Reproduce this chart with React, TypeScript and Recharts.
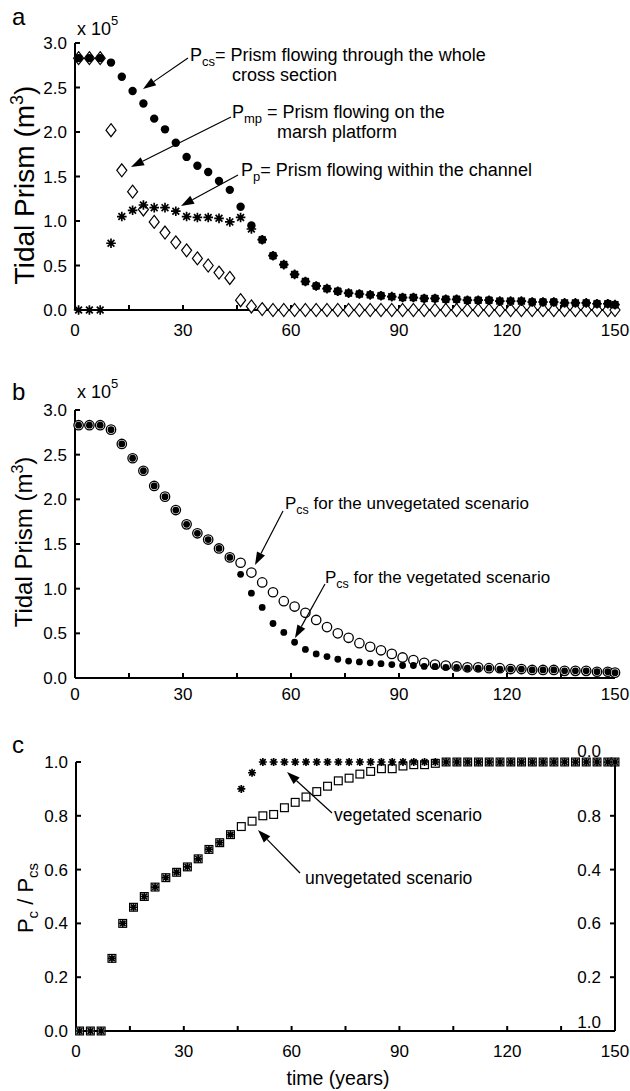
import React from 'react';
import { ScatterChart, Scatter, XAxis, YAxis } from 'recharts';

// sample years (same for every series)
const years = [1, 4, 7, 10, 13, 16, 19, 22, 25, 28, 31, 34, 37, 40, 43, 46, 49, 52, 55, 58, 61, 64, 67, 70, 73, 76, 79, 82, 85, 88, 91, 94, 97, 100, 103, 106, 109, 112, 115, 118, 121, 124, 127, 130, 133, 136, 139, 142, 145, 148, 150];

// panel a (x 10^5 m3)
const prismCs = [2.83, 2.83, 2.83, 2.78, 2.62, 2.46, 2.32, 2.15, 2.03, 1.88, 1.72, 1.62, 1.55, 1.45, 1.35, 1.16, 0.95, 0.79, 0.61, 0.51, 0.40, 0.32, 0.27, 0.24, 0.21, 0.19, 0.18, 0.17, 0.16, 0.15, 0.14, 0.14, 0.13, 0.13, 0.12, 0.12, 0.11, 0.11, 0.11, 0.10, 0.10, 0.10, 0.09, 0.09, 0.09, 0.08, 0.08, 0.08, 0.07, 0.07, 0.06];
const prismMp = [2.83, 2.83, 2.83, 2.02, 1.57, 1.33, 1.13, 0.99, 0.87, 0.76, 0.67, 0.58, 0.50, 0.42, 0.36, 0.11, 0.04, 0.01, 0, 0, 0, 0, 0, 0, 0, 0, 0, 0, 0, 0, 0, 0, 0, 0, 0, 0, 0, 0, 0, 0, 0, 0, 0, 0, 0, 0, 0, 0, 0, 0, 0];
const prismP = [0, 0, 0, 0.75, 1.05, 1.12, 1.18, 1.15, 1.15, 1.11, 1.05, 1.04, 1.04, 1.03, 0.99, 1.04, 0.91, 0.79, 0.61, 0.51, 0.40, 0.32, 0.27, 0.24, 0.21, 0.19, 0.18, 0.17, 0.16, 0.15, 0.14, 0.14, 0.13, 0.13, 0.12, 0.12, 0.11, 0.11, 0.11, 0.10, 0.10, 0.10, 0.09, 0.09, 0.09, 0.08, 0.08, 0.08, 0.07, 0.07, 0.06];

// panel b
const prismVeg = prismCs;
const prismUnveg = [2.83, 2.83, 2.83, 2.78, 2.62, 2.46, 2.32, 2.15, 2.03, 1.88, 1.72, 1.62, 1.55, 1.45, 1.35, 1.29, 1.18, 1.07, 0.96, 0.86, 0.80, 0.73, 0.65, 0.57, 0.50, 0.45, 0.39, 0.35, 0.31, 0.27, 0.23, 0.20, 0.17, 0.15, 0.14, 0.13, 0.12, 0.12, 0.11, 0.11, 0.10, 0.10, 0.09, 0.09, 0.09, 0.08, 0.08, 0.08, 0.07, 0.07, 0.06];

// panel c
const ratioUnveg = [0, 0, 0, 0.27, 0.40, 0.46, 0.50, 0.535, 0.57, 0.59, 0.61, 0.64, 0.675, 0.70, 0.73, 0.76, 0.78, 0.80, 0.805, 0.83, 0.85, 0.87, 0.89, 0.91, 0.93, 0.94, 0.955, 0.965, 0.975, 0.975, 0.985, 0.99, 0.99, 0.995, 1, 1, 1, 1, 1, 1, 1, 1, 1, 1, 1, 1, 1, 1, 1, 1, 1];
const ratioVeg = [0, 0, 0, 0.27, 0.40, 0.46, 0.50, 0.535, 0.57, 0.59, 0.61, 0.64, 0.675, 0.70, 0.73, 0.90, 0.96, 1, 1, 1, 1, 1, 1, 1, 1, 1, 1, 1, 1, 1, 1, 1, 1, 1, 1, 1, 1, 1, 1, 1, 1, 1, 1, 1, 1, 1, 1, 1, 1, 1, 1];

const xTicks = [0, 15, 30, 45, 60, 75, 90, 105, 120, 135, 150];
const prismTicks = [0, 0.5, 1, 1.5, 2, 2.5, 3];
const ratioTicks = [0, 0.2, 0.4, 0.6, 0.8, 1];
// right axis of panel c carries these labels, bottom to top
const rightLabels = ['1.0', '0.2', '0.6', '0.4', '0.8', '0.0'];

const FONT = 'Arial, "Liberation Sans", Helvetica, sans-serif';
const W = 630;

const toPoints = (vals: number[]) => years.map((t, i) => ({ t, v: vals[i] }));

// marker shapes
const dot = (r: number) => (p: any) => <circle cx={p.cx} cy={p.cy} r={r} fill="#000" />;
const ring = (p: any) => <circle cx={p.cx} cy={p.cy} r={4.7} fill="#fff" stroke="#000" strokeWidth={1.3} />;
const diamond = (p: any) => (
  <path d={`M${p.cx},${p.cy - 6.5}L${p.cx + 5},${p.cy}L${p.cx},${p.cy + 6.5}L${p.cx - 5},${p.cy}Z`} fill="#fff" stroke="#000" strokeWidth={1.2} />
);
const star = (r: number) => (p: any) => {
  const { cx, cy } = p;
  const d = r * 0.707;
  return (
    <path
      d={`M${cx - r},${cy}H${cx + r}M${cx},${cy - r}V${cy + r}M${cx - d},${cy - d}L${cx + d},${cy + d}M${cx - d},${cy + d}L${cx + d},${cy - d}`}
      stroke="#000" strokeWidth={1.7} fill="none"
    />
  );
};
const square = (p: any) => <rect x={p.cx - 3.9} y={p.cy - 3.9} width={7.8} height={7.8} fill="#fff" stroke="#000" strokeWidth={1.2} />;

// tick marks come from the axis (negative size = inward), labels from these
const TICK = 5;
const xTick = (labelDy: number) => (p: any) => {
  const { x, y, payload } = p;
  const v = payload.value;
  if (v % 30 !== 0) return <g />;
  return (
    <text x={x} y={y + TICK + labelDy} textAnchor="middle" fontSize={17} fontFamily={FONT} fill="#000">{v}</text>
  );
};

const yTick = (p: any) => {
  const { x, y, payload } = p;
  return (
    <text x={x - TICK - 8} y={y + 6} textAnchor="end" fontSize={17} fontFamily={FONT} fill="#000">{payload.value.toFixed(1)}</text>
  );
};

// x here is already the inner end of the tick mark
const rightTick = (p: any) => {
  const { x, y, payload } = p;
  const i = ratioTicks.indexOf(payload.value);
  const shift = i === 5 ? -11 : i === 0 ? -9 : 0;
  return (
    <text x={x - 9} y={y + 6 + shift} textAnchor="end" fontSize={17} fontFamily={FONT} fill="#000">{rightLabels[i]}</text>
  );
};

const axisLine = { stroke: '#000', strokeWidth: 2 };
const tickLine = { stroke: '#000', strokeWidth: 2 };

function Arrow({ x1, y1, x2, y2 }: { x1: number; y1: number; x2: number; y2: number }) {
  const dx = x2 - x1;
  const dy = y2 - y1;
  const len = Math.sqrt(dx * dx + dy * dy);
  const ux = dx / len;
  const uy = dy / len;
  const hl = 13;
  const hw = 4.5;
  const bx = x2 - ux * hl;
  const by = y2 - uy * hl;
  return (
    <g>
      <line x1={x1} y1={y1} x2={bx} y2={by} stroke="#000" strokeWidth={1.2} />
      <polygon points={`${x2},${y2} ${bx - uy * hw},${by + ux * hw} ${bx + uy * hw},${by - ux * hw}`} fill="#000" />
    </g>
  );
}

function Notes() {
  const t = { fontFamily: FONT, fill: '#000' };
  return (
    <svg width={W} height={1091} style={{ position: 'absolute', left: 0, top: 0, pointerEvents: 'none' }}>
      {/* panel letters and multipliers */}
      <text x={12} y={25} fontSize={24} {...t}>a</text>
      <text x={12} y={400} fontSize={24} {...t}>b</text>
      <text x={12} y={753} fontSize={24} {...t}>c</text>
      <text x={77} y={35} fontSize={18} {...t}>x 10<tspan dy={-10} fontSize={13}>5</tspan></text>
      <text x={77} y={398} fontSize={18} {...t}>x 10<tspan dy={-10} fontSize={13}>5</tspan></text>

      {/* axis titles */}
      <text x={34} y={185} fontSize={28} textAnchor="middle" transform="rotate(-90 34 185)" {...t}>
        Tidal Prism (m<tspan dy={-11} fontSize={18}>3</tspan><tspan dy={11}>)</tspan>
      </text>
      <text x={32} y={542} fontSize={24} textAnchor="middle" transform="rotate(-90 32 542)" {...t}>
        Tidal Prism (m<tspan dy={-9} fontSize={16}>3</tspan><tspan dy={9}>)</tspan>
      </text>
      <text x={33} y={898} fontSize={22} textAnchor="middle" transform="rotate(-90 33 898)" {...t}>
        P<tspan dy={5} fontSize={15}>c</tspan><tspan dy={-5}> / P</tspan><tspan dy={5} fontSize={15}>cs</tspan>
      </text>
      <text x={338} y={1085} fontSize={19.5} textAnchor="middle" {...t}>time (years)</text>

      {/* panel a notes */}
      <text x={190} y={61} fontSize={18} {...t}>P<tspan dy={5} fontSize={13}>cs</tspan><tspan dy={-5}>= Prism flowing through the whole</tspan></text>
      <text x={232} y={81} fontSize={18} {...t}>cross section</text>
      <text x={232} y={118} fontSize={18} {...t}>P<tspan dy={5} fontSize={13}>mp</tspan><tspan dy={-5}> = Prism flowing on the</tspan></text>
      <text x={277} y={138} fontSize={18} {...t}>marsh platform</text>
      <text x={241} y={176} fontSize={18} {...t}>P<tspan dy={5} fontSize={13}>p</tspan><tspan dy={-5}>= Prism flowing within the channel</tspan></text>
      <Arrow x1={188} y1={58} x2={143} y2={89} />
      <Arrow x1={231} y1={117} x2={131} y2={167} />
      <Arrow x1={238} y1={175} x2={181} y2={206} />

      {/* panel b notes */}
      <text x={285} y={509} fontSize={17} {...t}>P<tspan dy={5} fontSize={12.5}>cs</tspan><tspan dy={-5}> for the unvegetated scenario</tspan></text>
      <text x={325} y={583} fontSize={17} {...t}>P<tspan dy={5} fontSize={12.5}>cs</tspan><tspan dy={-5}> for the vegetated scenario</tspan></text>
      <Arrow x1={283} y1={511} x2={255} y2={565} />
      <Arrow x1={325} y1={584} x2={295} y2={638} />

      {/* panel c notes */}
      <text x={334} y={821} fontSize={17.5} {...t}>vegetated scenario</text>
      <text x={305} y={884} fontSize={17.5} {...t}>unvegetated scenario</text>
      <Arrow x1={332} y1={813} x2={287} y2={772} />
      <Arrow x1={300} y1={873} x2={258} y2={830} />
    </svg>
  );
}

export default function App() {
  return (
    <div style={{ position: 'absolute', left: 0, top: 0, width: W, height: 1091, background: '#fff', fontFamily: FONT }}>
      {/* a: prism components */}
      <div style={{ position: 'absolute', left: 0, top: 0 }}>
        <ScatterChart width={W} height={345} margin={{ top: 43, right: 15, bottom: 0, left: 0 }}>
          <XAxis dataKey="t" type="number" domain={[0, 150]} ticks={xTicks} interval={0} height={35}
            axisLine={axisLine} tickLine={tickLine} tickSize={-TICK} tickMargin={0} tick={xTick(26)} />
          <YAxis dataKey="v" type="number" domain={[0, 3]} ticks={prismTicks} interval={0} width={75}
            axisLine={axisLine} tickLine={tickLine} tickSize={-TICK} tickMargin={0} tick={yTick} />
          <Scatter data={toPoints(prismMp)} shape={diamond} isAnimationActive={false} />
          <Scatter data={toPoints(prismCs)} shape={dot(4.2)} isAnimationActive={false} />
          <Scatter data={toPoints(prismP)} shape={star(4.8)} isAnimationActive={false} />
        </ScatterChart>
      </div>

      {/* b: vegetated vs unvegetated */}
      <div style={{ position: 'absolute', left: 0, top: 360 }}>
        <ScatterChart width={W} height={350} margin={{ top: 50, right: 15, bottom: 0, left: 0 }}>
          <XAxis dataKey="t" type="number" domain={[0, 150]} ticks={xTicks} interval={0} height={32}
            axisLine={axisLine} tickLine={tickLine} tickSize={-TICK} tickMargin={0} tick={xTick(22)} />
          <YAxis dataKey="v" type="number" domain={[0, 3]} ticks={prismTicks} interval={0} width={75}
            axisLine={axisLine} tickLine={tickLine} tickSize={-TICK} tickMargin={0} tick={yTick} />
          <Scatter data={toPoints(prismUnveg)} shape={ring} isAnimationActive={false} />
          <Scatter data={toPoints(prismVeg)} shape={dot(3.4)} isAnimationActive={false} />
        </ScatterChart>
      </div>

      {/* c: ratio */}
      <div style={{ position: 'absolute', left: 0, top: 720 }}>
        <ScatterChart width={W} height={371} margin={{ top: 42, right: 0, bottom: 0, left: 0 }}>
          <XAxis dataKey="t" type="number" domain={[0, 150]} ticks={xTicks} interval={0} height={60}
            axisLine={axisLine} tickLine={tickLine} tickSize={-TICK} tickMargin={0} tick={xTick(26)} />
          <YAxis yAxisId="l" dataKey="v" type="number" domain={[0, 1]} ticks={ratioTicks} interval={0} width={76}
            axisLine={axisLine} tickLine={tickLine} tickSize={-TICK} tickMargin={0} tick={yTick} />
          <YAxis yAxisId="r" orientation="right" type="number" domain={[0, 1]} allowDataOverflow ticks={ratioTicks} interval={0} width={15}
            axisLine={axisLine} tickLine={tickLine} tickSize={-TICK} tickMargin={0} tick={rightTick} />
          <Scatter yAxisId="l" data={toPoints(ratioUnveg)} shape={square} isAnimationActive={false} />
          <Scatter yAxisId="l" data={toPoints(ratioVeg)} shape={star(4)} isAnimationActive={false} />
        </ScatterChart>
      </div>

      <Notes />
    </div>
  );
}
